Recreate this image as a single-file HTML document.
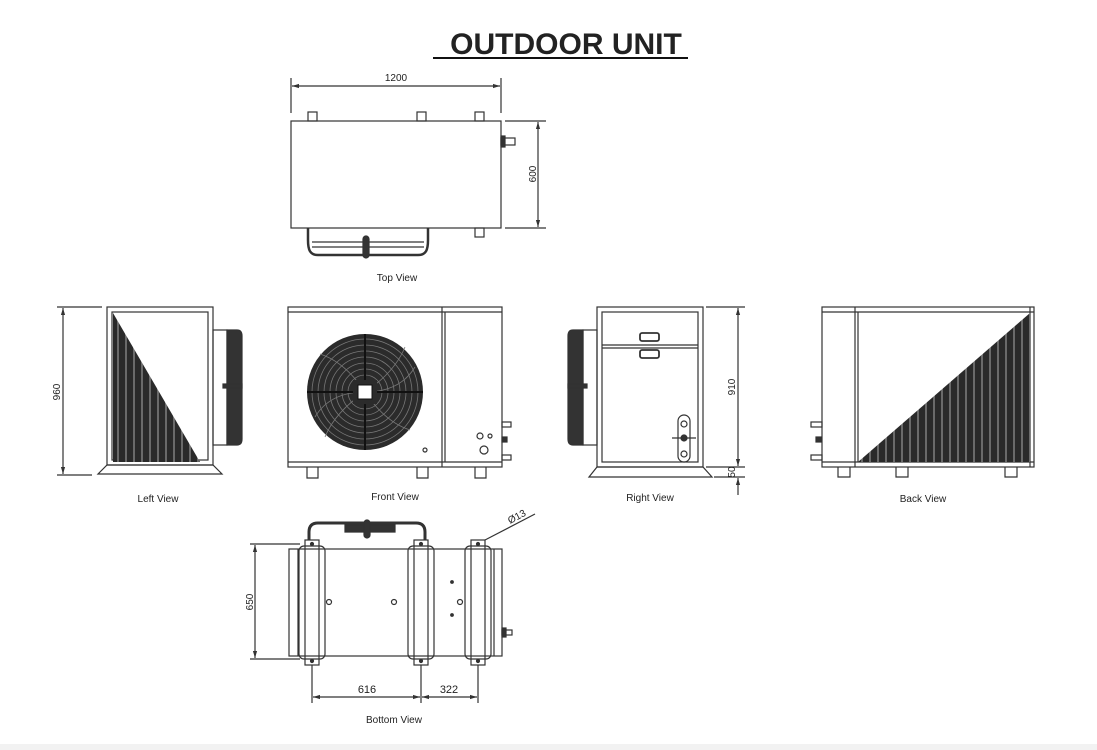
<!DOCTYPE html>
<html><head><meta charset="utf-8"><style>
html,body{margin:0;padding:0;background:#fff;}
svg{display:block}
text{font-family:"Liberation Sans",sans-serif;fill:#222}
</style></head><body>
<svg width="1097" height="750" viewBox="0 0 1097 750" xmlns="http://www.w3.org/2000/svg">
<defs>
<pattern id="fins" width="8" height="10" patternUnits="userSpaceOnUse">
<rect width="8" height="10" fill="#2a2a2a"/><rect x="5" width="2" height="10" fill="#6a6a6a"/>
</pattern>
<marker id="ar" viewBox="0 0 10 10" refX="10" refY="5" markerWidth="6" markerHeight="6" orient="auto-start-reverse"><path d="M0,2 L10,5 L0,8 z" fill="#333"/></marker>
</defs>
<rect x="0" y="744" width="1097" height="6" fill="#f2f2f2"/>
<text x="566" y="54" font-size="30" font-weight="bold" text-anchor="middle" fill="#111">OUTDOOR UNIT</text>
<line x1="433" y1="58" x2="688" y2="58" stroke="#111" stroke-width="2"/>

<g stroke="#333" stroke-width="1.2" fill="none">
<rect x="291" y="121" width="210" height="107"/>
<line x1="291" y1="78" x2="291" y2="113"/><line x1="501" y1="78" x2="501" y2="113"/>
<line x1="292" y1="86" x2="500" y2="86" marker-start="url(#ar)" marker-end="url(#ar)"/>
<rect x="308" y="112" width="9" height="9"/><rect x="417" y="112" width="9" height="9"/><rect x="475" y="112" width="9" height="9"/>
<rect x="475" y="228" width="9" height="9"/>
<line x1="505" y1="121" x2="546" y2="121"/><line x1="505" y1="228" x2="546" y2="228"/>
<line x1="538" y1="122" x2="538" y2="227" marker-start="url(#ar)" marker-end="url(#ar)"/>
<rect x="501" y="138" width="14" height="7"/><rect x="501" y="136" width="4" height="11" fill="#333"/>
<path d="M308,228 v12 c0,10 2,15 10,15 h100 c8,0 10,-5 10,-15 v-12" stroke-width="2.5"/>
<line x1="312" y1="242" x2="424" y2="242"/><line x1="312" y1="247" x2="424" y2="247"/>
<rect x="363" y="236" width="6" height="22" rx="3" fill="#333"/>

<rect x="107" y="307" width="106" height="158"/>
<rect x="112" y="312" width="96" height="148"/>
<path d="M113,313 L200,462 L113,462 Z" fill="url(#fins)" stroke="none"/>
<path d="M98,474 L107,465 H213 L222,474 Z"/>
<rect x="213" y="330" width="14" height="115"/>
<path d="M227,330 h10 c4,0 5,3 5,6 v103 c0,3 -1,6 -5,6 h-10 Z" fill="#333"/>
<rect x="223" y="384" width="19" height="4" fill="#333"/>
<line x1="57" y1="307" x2="102" y2="307"/><line x1="57" y1="475" x2="92" y2="475"/>
<line x1="63" y1="308" x2="63" y2="474" marker-start="url(#ar)" marker-end="url(#ar)"/>

<rect x="288" y="307" width="214" height="160"/>
<line x1="288" y1="312" x2="502" y2="312"/><line x1="288" y1="462" x2="502" y2="462"/>
<line x1="442" y1="307" x2="442" y2="467"/><line x1="445" y1="312" x2="445" y2="462"/>
<path d="M307,467 v11 h11 v-11 M417,467 v11 h11 v-11 M475,467 v11 h11 v-11"/>
<rect x="502" y="422" width="9" height="5"/><rect x="502" y="455" width="9" height="5"/><rect x="502" y="437" width="5" height="5" fill="#333"/>
<circle cx="480" cy="436" r="3"/><circle cx="490" cy="436" r="2"/><circle cx="484" cy="450" r="4"/><circle cx="425" cy="450" r="2"/>
</g>
<g>
<circle cx="365" cy="392" r="58" fill="#2b2b2b"/>
<g fill="none" stroke="#777" stroke-width="0.8">
<circle cx="365" cy="392" r="53"/><circle cx="365" cy="392" r="47"/><circle cx="365" cy="392" r="41"/><circle cx="365" cy="392" r="35"/><circle cx="365" cy="392" r="29"/><circle cx="365" cy="392" r="23"/><circle cx="365" cy="392" r="17"/>
<path d="M365,392 q30,-20 40,-45 M365,392 q20,30 45,38 M365,392 q-30,20 -40,45 M365,392 q-20,-30 -45,-38 M365,392 q35,0 50,-25 M365,392 q-35,0 -50,25"/>
</g>
<line x1="307" y1="392" x2="423" y2="392" stroke="#111" stroke-width="2"/>
<line x1="365" y1="334" x2="365" y2="450" stroke="#111" stroke-width="2"/>
<rect x="353" y="380" width="24" height="24" fill="#2b2b2b"/>
<rect x="358" y="385" width="14" height="14" fill="#fff" stroke="#111"/>
</g>

<g stroke="#333" stroke-width="1.2" fill="none">
<rect x="597" y="307" width="106" height="160"/>
<rect x="602" y="312" width="96" height="150"/>
<line x1="602" y1="345" x2="698" y2="345"/><line x1="602" y1="348" x2="698" y2="348"/>
<rect x="640" y="333" width="19" height="8" rx="2" stroke-width="1.8"/><rect x="640" y="350" width="19" height="8" rx="2" stroke-width="1.8"/>
<path d="M589,477 L597,467 H703 L712,477 Z"/>
<rect x="583" y="330" width="14" height="115"/>
<path d="M583,330 h-10 c-4,0 -5,3 -5,6 v103 c0,3 1,6 5,6 h10 Z" fill="#333"/>
<rect x="568" y="384" width="19" height="4" fill="#333"/>
<rect x="678" y="415" width="12" height="47" rx="6"/>
<circle cx="684" cy="424" r="3"/><circle cx="684" cy="438" r="3" fill="#333"/><circle cx="684" cy="454" r="3"/>
<line x1="672" y1="438" x2="696" y2="438"/>
<line x1="706" y1="307" x2="745" y2="307"/><line x1="706" y1="467" x2="745" y2="467"/><line x1="714" y1="477" x2="745" y2="477"/>
<line x1="738" y1="308" x2="738" y2="466" marker-start="url(#ar)" marker-end="url(#ar)"/>
<line x1="738" y1="495" x2="738" y2="478" marker-end="url(#ar)"/>

<rect x="822" y="307" width="212" height="160"/>
<line x1="822" y1="312" x2="1034" y2="312"/><line x1="822" y1="462" x2="1034" y2="462"/>
<line x1="855" y1="307" x2="855" y2="467"/><line x1="858" y1="312" x2="858" y2="462"/><line x1="1030" y1="307" x2="1030" y2="467"/>
<path d="M858,462 L1030,313 L1030,462 Z" fill="url(#fins)" stroke="none"/>
<path d="M838,467 v10 h12 v-10 M896,467 v10 h12 v-10 M1005,467 v10 h12 v-10"/>
<rect x="811" y="422" width="11" height="5"/><rect x="811" y="455" width="11" height="5"/><rect x="816" y="437" width="5" height="5" fill="#333"/>

<rect x="289" y="549" width="213" height="107"/>
<line x1="298" y1="549" x2="298" y2="656"/><line x1="494" y1="549" x2="494" y2="656"/>
<rect x="305" y="540" width="14" height="125"/><rect x="299" y="546" width="26" height="113" rx="5"/>
<rect x="414" y="540" width="14" height="125"/><rect x="408" y="546" width="26" height="113" rx="5"/>
<rect x="471" y="540" width="14" height="125"/><rect x="465" y="546" width="26" height="113" rx="5"/>
<circle cx="312" cy="544" r="1.5" fill="#333"/><circle cx="312" cy="661" r="1.5" fill="#333"/>
<circle cx="421" cy="544" r="1.5" fill="#333"/><circle cx="421" cy="661" r="1.5" fill="#333"/>
<circle cx="478" cy="544" r="1.5" fill="#333"/><circle cx="478" cy="661" r="1.5" fill="#333"/>
<circle cx="329" cy="602" r="2.5"/><circle cx="394" cy="602" r="2.5"/><circle cx="460" cy="602" r="2.5"/>
<circle cx="452" cy="582" r="1.3" fill="#333"/><circle cx="452" cy="615" r="1.3" fill="#333"/>
<rect x="502" y="630" width="10" height="5"/><rect x="502" y="628" width="4" height="9" fill="#333"/>
<path d="M309,540 v-8 c0,-6 3,-9 9,-9 h98 c6,0 9,3 9,9 v8" stroke-width="3"/>
<path d="M345,525 h50 v7 h-50 z" fill="#333"/>
<rect x="364" y="520" width="6" height="18" rx="3" fill="#333"/>
<line x1="485" y1="540" x2="535" y2="514"/>
<line x1="250" y1="544" x2="300" y2="544"/><line x1="250" y1="659" x2="300" y2="659"/>
<line x1="255" y1="545" x2="255" y2="658" marker-start="url(#ar)" marker-end="url(#ar)"/>
<line x1="312" y1="665" x2="312" y2="703"/><line x1="421" y1="665" x2="421" y2="703"/><line x1="478" y1="665" x2="478" y2="703"/>
<line x1="313" y1="697" x2="420" y2="697" marker-start="url(#ar)" marker-end="url(#ar)"/>
<line x1="422" y1="697" x2="477" y2="697" marker-start="url(#ar)" marker-end="url(#ar)"/>
</g>

<g font-size="10">
<text x="396" y="81" text-anchor="middle">1200</text>
<text x="0" y="0" text-anchor="middle" transform="translate(536,174) rotate(-90)">600</text>
<text x="397" y="281" text-anchor="middle">Top View</text>
<text x="0" y="0" text-anchor="middle" transform="translate(60,392) rotate(-90)">960</text>
<text x="158" y="502" text-anchor="middle">Left View</text>
<text x="395" y="500" text-anchor="middle">Front View</text>
<text x="0" y="0" text-anchor="middle" transform="translate(735,387) rotate(-90)">910</text>
<text x="0" y="0" text-anchor="middle" transform="translate(735,472) rotate(-90)">50</text>
<text x="650" y="501" text-anchor="middle">Right View</text>
<text x="923" y="502" text-anchor="middle">Back View</text>
<text x="0" y="0" text-anchor="middle" transform="translate(253,602) rotate(-90)">650</text>
<text x="367" y="693" text-anchor="middle" font-size="11">616</text>
<text x="449" y="693" text-anchor="middle" font-size="11">322</text>
<text x="0" y="0" transform="translate(510,524) rotate(-28)">Ø13</text>
<text x="394" y="723" text-anchor="middle">Bottom View</text>
</g>
</svg>
</body></html>
